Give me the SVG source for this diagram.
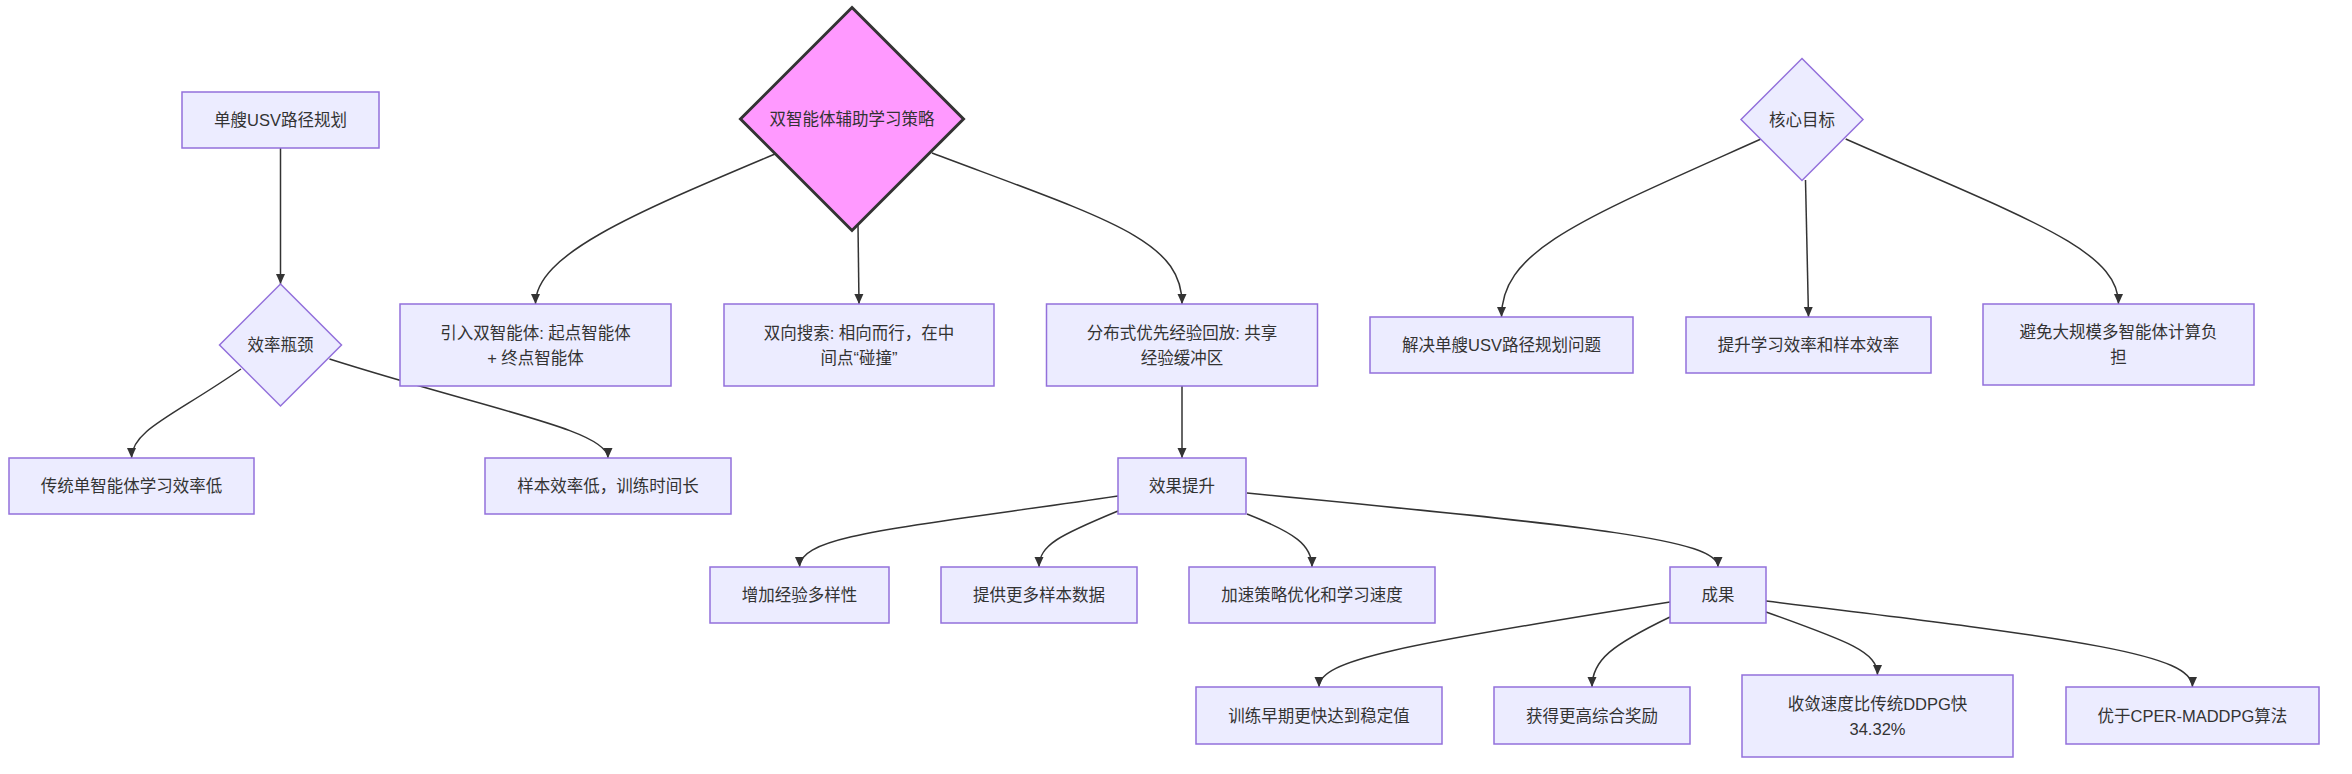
<svg xmlns="http://www.w3.org/2000/svg" width="2352" height="774" viewBox="0 0 2352 774">
<style>
.n{fill:#ECECFF;stroke:#9370DB;stroke-width:1.5}
.hl{fill:#FF99FF;stroke:#333333;stroke-width:3}
.t{font-family:"Liberation Sans","Noto Sans CJK SC",sans-serif;font-size:16.5px;fill:#333333;text-anchor:middle;dominant-baseline:central}
.e{fill:none;stroke:#333333;stroke-width:1.5;marker-end:url(#arr)}
</style>
<defs>
<marker id="arr" viewBox="0 0 10 10" refX="10" refY="5" markerUnits="userSpaceOnUse" markerWidth="10" markerHeight="10" orient="auto">
<path d="M0,0.5 L10,5 L0,9.5 z" fill="#333333"/>
</marker>
</defs>
<rect width="2352" height="774" fill="#ffffff"/>
<g id="connectors">
<path class="e" d="M280.5,148 L280.5,284"/>
<path class="e" d="M241,369 C175,415 131.5,430 131.5,458"/>
<path class="e" d="M329.5,359 C490,410 608,430 608,458"/>
<path class="e" d="M775,154 C630,215 535.5,255 535.5,304"/>
<path class="e" d="M858,225 L859,304"/>
<path class="e" d="M932,153 C1110,220 1182,240 1182,304"/>
<path class="e" d="M1182,386 L1182,458"/>
<path class="e" d="M1118,496 C900,528 799.5,535 799.5,567"/>
<path class="e" d="M1118,511 C1060,535 1039,545 1039,567"/>
<path class="e" d="M1247,514 C1295,533 1312,545 1312,567"/>
<path class="e" d="M1247,493 C1600,527 1718,540 1718,567"/>
<path class="e" d="M1670,602 C1400,645 1319,660 1319,687"/>
<path class="e" d="M1670,617 C1612,645 1592,660 1592,687"/>
<path class="e" d="M1766,612 C1850,642 1877.5,652 1877.5,675"/>
<path class="e" d="M1766,601 C2090,640 2192.5,655 2192.5,687"/>
<path class="e" d="M1761,139 C1580,220 1501.5,250 1501.5,317"/>
<path class="e" d="M1805.5,180 L1808.5,317"/>
<path class="e" d="M1845.7,139 C2030,220 2118.5,250 2118.5,304"/>
</g>
<g id="nodeA"><rect class="n" x="182" y="92" width="197" height="56"/><text class="t" x="280.5" y="120">单艘USV路径规划</text></g>
<g id="nodeB"><polygon class="n" points="280.5,284 341.5,345 280.5,406 219.5,345"/><text class="t" x="280.5" y="345">效率瓶颈</text></g>
<g id="nodeC"><rect class="n" x="9" y="458" width="245" height="56"/><text class="t" x="131.5" y="486">传统单智能体学习效率低</text></g>
<g id="nodeD"><rect class="n" x="485" y="458" width="246" height="56"/><text class="t" x="608" y="486">样本效率低，训练时间长</text></g>
<g id="nodeMain"><polygon class="hl" points="852,7.5 963.5,119 852,230.5 740.5,119"/><text class="t" x="852" y="119">双智能体辅助学习策略</text></g>
<g id="nodeE"><rect class="n" x="400" y="304" width="271" height="82"/><text class="t" x="535.5" y="332.5">引入双智能体: 起点智能体</text><text class="t" x="535.5" y="357.5">+ 终点智能体</text></g>
<g id="nodeF"><rect class="n" x="724" y="304" width="270" height="82"/><text class="t" x="859" y="332.5">双向搜索: 相向而行，在中</text><text class="t" x="859" y="357.5">间点“碰撞”</text></g>
<g id="nodeG"><rect class="n" x="1046.5" y="304" width="271" height="82"/><text class="t" x="1182" y="332.5">分布式优先经验回放: 共享</text><text class="t" x="1182" y="357.5">经验缓冲区</text></g>
<g id="nodeH"><rect class="n" x="1118" y="458" width="128" height="56"/><text class="t" x="1182" y="486">效果提升</text></g>
<g id="nodeI"><rect class="n" x="710" y="567" width="179" height="56"/><text class="t" x="799.5" y="595">增加经验多样性</text></g>
<g id="nodeJ"><rect class="n" x="941" y="567" width="196" height="56"/><text class="t" x="1039" y="595">提供更多样本数据</text></g>
<g id="nodeK"><rect class="n" x="1189" y="567" width="246" height="56"/><text class="t" x="1312" y="595">加速策略优化和学习速度</text></g>
<g id="nodeL"><rect class="n" x="1670" y="567" width="96" height="56"/><text class="t" x="1718" y="595">成果</text></g>
<g id="nodeM"><rect class="n" x="1196" y="687" width="246" height="57"/><text class="t" x="1319" y="715.5">训练早期更快达到稳定值</text></g>
<g id="nodeN"><rect class="n" x="1494" y="687" width="196" height="57"/><text class="t" x="1592" y="715.5">获得更高综合奖励</text></g>
<g id="nodeO"><rect class="n" x="1742" y="675" width="271" height="82"/><text class="t" x="1877.5" y="703.5">收敛速度比传统DDPG快</text><text class="t" x="1877.5" y="728.5">34.32%</text></g>
<g id="nodeP"><rect class="n" x="2066" y="687" width="253" height="57"/><text class="t" x="2192.5" y="715.5">优于CPER-MADDPG算法</text></g>
<g id="nodeCore"><polygon class="n" points="1802,58.5 1863,119.5 1802,180.5 1741,119.5"/><text class="t" x="1802" y="119.5">核心目标</text></g>
<g id="nodeQ"><rect class="n" x="1370" y="317" width="263" height="56"/><text class="t" x="1501.5" y="345">解决单艘USV路径规划问题</text></g>
<g id="nodeR"><rect class="n" x="1686" y="317" width="245" height="56"/><text class="t" x="1808.5" y="345">提升学习效率和样本效率</text></g>
<g id="nodeS"><rect class="n" x="1983" y="304" width="271" height="81"/><text class="t" x="2118.5" y="332">避免大规模多智能体计算负</text><text class="t" x="2118.5" y="357">担</text></g>
</svg>
